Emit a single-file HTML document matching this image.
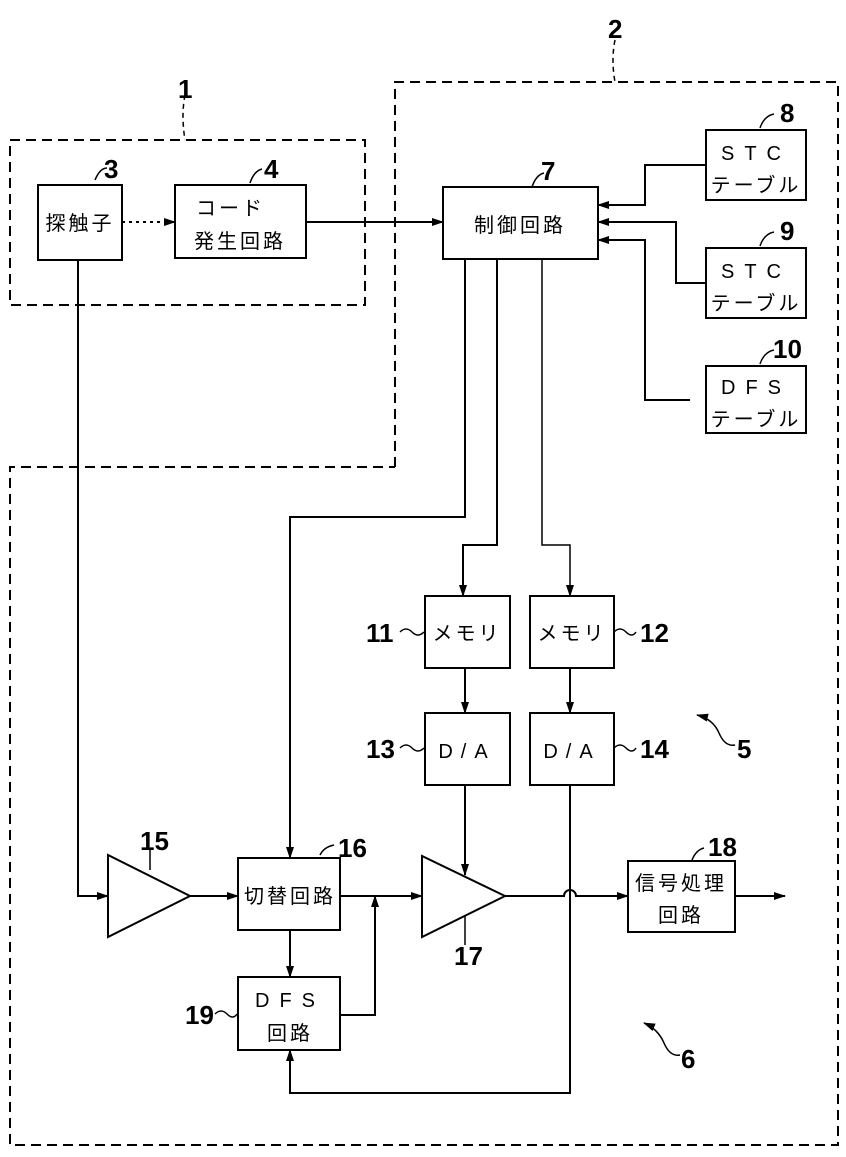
<!DOCTYPE html>
<html><head><meta charset="utf-8"><style>
html,body{margin:0;padding:0;background:#fff;}
svg{display:block;}
text{font-family:"Liberation Sans","Noto Sans CJK JP",sans-serif;fill:#000;}
.j{font-size:20px;letter-spacing:3px;}
.n{font-size:26px;font-weight:bold;}
</style></head><body>
<svg width="846" height="1157" viewBox="0 0 846 1157" xmlns="http://www.w3.org/2000/svg">
<defs><marker id="a" markerWidth="12" markerHeight="8" refX="11" refY="4" orient="auto" markerUnits="userSpaceOnUse"><path d="M0,0 L12,4 L0,8 Z" fill="#000"/></marker></defs>
<g fill="none" stroke="#000" stroke-width="2">
<rect x="10" y="140" width="355" height="165" stroke-dasharray="10,6"/>
<path d="M395,467 V82 H838 V1145 H10 V467 H395" stroke-dasharray="10,6"/>
<path d="M185,95 q-4,20 0,45" stroke-dasharray="5,4" stroke-width="1.5"/>
<path d="M615,40 q-4,20 0,42" stroke-dasharray="5,4" stroke-width="1.5"/>
<rect x="38" y="185" width="84" height="75"/>
<rect x="175" y="185" width="131" height="73"/>
<rect x="443" y="187" width="155" height="72"/>
<rect x="706" y="130" width="100" height="70"/>
<rect x="706" y="248" width="100" height="70"/>
<rect x="706" y="366" width="100" height="67"/>
<rect x="425" y="596" width="85" height="72"/>
<rect x="530" y="596" width="84" height="72"/>
<rect x="425" y="713" width="85" height="72"/>
<rect x="530" y="713" width="84" height="72"/>
<rect x="238" y="858" width="102" height="72"/>
<rect x="628" y="861" width="107" height="71"/>
<rect x="238" y="977" width="102" height="73"/>
<path d="M108,855 L108,937 L190,896 Z"/>
<path d="M422,856 L422,937 L505,896 Z"/>
<path d="M122,222 H175" stroke-dasharray="3,4" marker-end="url(#a)"/>
<path d="M306,222 H443" marker-end="url(#a)"/>
<path d="M706,165 H645 V205 H598" marker-end="url(#a)"/>
<path d="M706,283 H676 V222 H598" marker-end="url(#a)"/>
<path d="M690,400 H645 V240 H598" marker-end="url(#a)"/>
<path d="M465,259 V517 H290 V858" marker-end="url(#a)"/>
<path d="M497,259 V545 H463 V596" marker-end="url(#a)"/>
<path d="M542,259 V545 H570 V596" marker-end="url(#a)" stroke-width="1.5"/>
<path d="M465,668 V713" marker-end="url(#a)"/>
<path d="M570,668 V713" marker-end="url(#a)"/>
<path d="M465,785 V875" marker-end="url(#a)"/>
<path d="M78,260 V896 H108" marker-end="url(#a)"/>
<path d="M190,896 H238" marker-end="url(#a)"/>
<path d="M340,896 H422" marker-end="url(#a)"/>
<path d="M505,896 H564 a6,6 0 0 1 12,0 H628" marker-end="url(#a)"/>
<path d="M735,896 H785" marker-end="url(#a)"/>
<path d="M570,785 V1093 H290 V1050" marker-end="url(#a)"/>
<path d="M290,930 V977" marker-end="url(#a)"/>
<path d="M340,1015 H375 V896" marker-end="url(#a)"/>
<g stroke-width="1.5">
<path d="M95,180 q5,-12 12,-12"/><path d="M250,183 q4,-12 12,-14"/><path d="M532,187 q4,-12 12,-14"/>
<path d="M760,128 q4,-12 14,-14"/><path d="M760,246 q4,-12 14,-14"/><path d="M760,364 q4,-12 14,-14"/>
<path d="M400,632 q6,-6 12,0 t12,0"/><path d="M614,632 q6,-6 12,0 t10,0"/>
<path d="M400,748 q6,-6 12,0 t12,0"/><path d="M614,748 q6,-6 12,0 t10,0"/>
<path d="M215,1014 q6,-6 12,0 t10,0"/>
<path d="M150,850 V870"/><path d="M320,855 q4,-8 14,-10"/><path d="M465,915 V945"/><path d="M692,860 q4,-10 12,-12"/>
<path d="M735,745 q-10,2 -16,-12 t-22,-18" marker-end="url(#a)"/>
<path d="M680,1055 q-10,2 -16,-12 t-20,-20" marker-end="url(#a)"/>
</g>
</g>
<g>
<text class="j" x="80" y="230" text-anchor="middle">探触子</text>
<text class="j" x="196" y="215">コード</text>
<text class="j" x="240" y="248" text-anchor="middle">発生回路</text>
<text class="j" x="520" y="232" text-anchor="middle">制御回路</text>
<text class="j" x="756" y="160" text-anchor="middle" style="letter-spacing:10px">STC</text>
<text class="j" x="756" y="192" text-anchor="middle">テーブル</text>
<text class="j" x="756" y="278" text-anchor="middle" style="letter-spacing:10px">STC</text>
<text class="j" x="756" y="310" text-anchor="middle">テーブル</text>
<text class="j" x="756" y="394" text-anchor="middle" style="letter-spacing:10px">DFS</text>
<text class="j" x="756" y="426" text-anchor="middle">テーブル</text>
<text class="j" x="467" y="640" text-anchor="middle">メモリ</text>
<text class="j" x="572" y="640" text-anchor="middle">メモリ</text>
<text class="j" x="467" y="758" text-anchor="middle" style="letter-spacing:8px">D/A</text>
<text class="j" x="572" y="758" text-anchor="middle" style="letter-spacing:8px">D/A</text>
<text class="j" x="290" y="903" text-anchor="middle">切替回路</text>
<text class="j" x="681" y="890" text-anchor="middle">信号処理</text>
<text class="j" x="681" y="922" text-anchor="middle">回路</text>
<text class="j" x="290" y="1007" text-anchor="middle" style="letter-spacing:10px">DFS</text>
<text class="j" x="290" y="1040" text-anchor="middle">回路</text>
<text class="n" x="178" y="98">1</text>
<text class="n" x="608" y="38">2</text>
<text class="n" x="104" y="178">3</text>
<text class="n" x="264" y="178">4</text>
<text class="n" x="541" y="180">7</text>
<text class="n" x="780" y="122">8</text>
<text class="n" x="780" y="240">9</text>
<text class="n" x="773" y="358">10</text>
<text class="n" x="366" y="642">11</text>
<text class="n" x="640" y="642">12</text>
<text class="n" x="366" y="758">13</text>
<text class="n" x="640" y="758">14</text>
<text class="n" x="737" y="758">5</text>
<text class="n" x="140" y="850">15</text>
<text class="n" x="338" y="857">16</text>
<text class="n" x="454" y="965">17</text>
<text class="n" x="708" y="856">18</text>
<text class="n" x="185" y="1024">19</text>
<text class="n" x="681" y="1068">6</text>
</g>
</svg>
</body></html>
